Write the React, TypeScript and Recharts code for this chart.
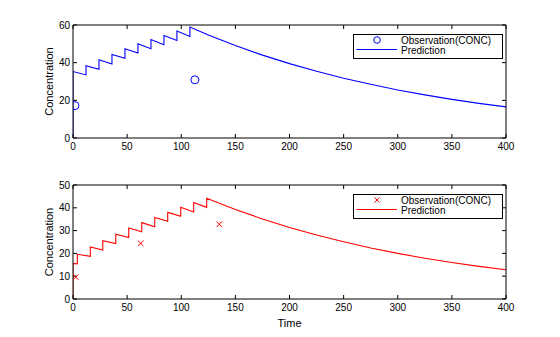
import { ComposedChart, Line, Scatter, XAxis, YAxis } from 'recharts';

const xTicks = [0, 50, 100, 150, 200, 250, 300, 350, 400];

// top panel
const topPredTime = [0, 0, 12, 12, 24, 24, 36, 36, 48, 48, 60, 60, 72, 72, 84, 84, 96, 96, 108, 108,
  125, 150, 175, 200, 225, 250, 275, 300, 325, 350, 375, 400];
const topPredConc = [0, 35.3, 33.5, 38.4, 36.5, 41.6, 39.3, 44.4, 42.3, 47.4, 45.1, 50.0, 47.4, 52.3, 49.5, 54.4, 51.8, 56.8, 53.9, 58.9,
  54.7, 49.1, 44.0, 39.5, 35.4, 31.7, 28.5, 25.5, 22.9, 20.5, 18.4, 16.5];
const topObsTime = [1.8, 112.6];
const topObsConc = [17.2, 30.9];
const topYTicks = [0, 20, 40, 60];

// bottom panel
const botPredTime = [0, 0, 4, 4, 16, 16, 27.5, 27.5, 39.5, 39.5, 51.5, 51.5, 63.5, 63.5, 75.5, 75.5, 87.5, 87.5, 99.5, 99.5, 111.5, 111.5, 123.5, 123.5,
  150, 175, 200, 225, 250, 275, 300, 325, 350, 375, 400];
const botPredConc = [0, 15.6, 15.4, 19.6, 18.7, 22.8, 21.5, 25.6, 24.3, 28.4, 27.0, 31.1, 29.5, 33.5, 31.7, 35.8, 34.1, 38.0, 36.3, 40.2, 38.2, 42.3, 40.2, 44.2,
  39.3, 35.1, 31.4, 28.1, 25.1, 22.4, 20.0, 17.9, 16.0, 14.3, 12.8];
const botObsTime = [2.5, 62.6, 135.2];
const botObsConc = [9.6, 24.4, 32.8];
const botYTicks = [0, 10, 20, 30, 40, 50];

const legendLabels = ['Observation(CONC)', 'Prediction'];

const FONT = '"Liberation Sans", Arial, sans-serif';
const tickStyle = { fontSize: 10, fontFamily: FONT, fill: '#000' };
const axisLineStyle = { stroke: '#000', strokeWidth: 1 };
const noLabel = () => <g />;

const toRows = (t: number[], c: number[]) => t.map((v, i) => ({ t: v, c: c[i] }));

const Circle = (props: any) => (
  <circle cx={props.cx} cy={props.cy} r={4} fill="none" stroke="#0000ff" strokeWidth={1} />
);

const Cross = (props: any) => {
  const { cx, cy } = props;
  const s = 2.8;
  return (
    <path d={`M${cx - s},${cy - s}L${cx + s},${cy + s}M${cx - s},${cy + s}L${cx + s},${cy - s}`} stroke="#ff0000" strokeWidth={1} fill="none" />
  );
};

type PanelProps = {
  pred: { t: number; c: number }[];
  obs: { t: number; c: number }[];
  yTicks: number[];
  color: string;
  marker: 'circle' | 'cross';
  height: number;
  plotHeight: number;
  xAxisHeight: number;
  showTime: boolean;
};

const Panel = ({ pred, obs, yTicks, color, marker, height, plotHeight, xAxisHeight, showTime }: PanelProps) => {
  const yDomain = [yTicks[0], yTicks[yTicks.length - 1]];
  return (
    <ComposedChart
      width={560}
      height={height}
      margin={{ top: 24, right: 53, left: 25, bottom: height - 25 - plotHeight - xAxisHeight }}
    >
      <XAxis
        xAxisId="b"
        dataKey="t"
        type="number"
        domain={[0, 400]}
        ticks={xTicks}
        interval={0}
        allowDataOverflow
        height={xAxisHeight}
        tickSize={-4}
        tickMargin={9}
        tick={tickStyle}
        axisLine={axisLineStyle}
        tickLine={axisLineStyle}
        label={showTime ? { value: 'Time', position: 'insideBottom', offset: 10, style: { fontSize: 11, fontFamily: FONT, fill: '#000' } } : undefined}
      />
      <XAxis
        xAxisId="t"
        orientation="top"
        dataKey="t"
        type="number"
        domain={[0, 400]}
        ticks={xTicks}
        interval={0}
        allowDataOverflow
        height={1}
        tickSize={-4}
        tick={noLabel}
        axisLine={axisLineStyle}
        tickLine={axisLineStyle}
      />
      <YAxis
        yAxisId="l"
        type="number"
        domain={yDomain}
        ticks={yTicks}
        interval={0}
        allowDataOverflow
        width={48}
        tickSize={-4}
        tickMargin={7}
        tick={tickStyle}
        axisLine={axisLineStyle}
        tickLine={axisLineStyle}
        label={{ value: 'Concentration', angle: -90, position: 'center', style: { fontSize: 11, fontFamily: FONT, fill: '#000', textAnchor: 'middle' } }}
      />
      <YAxis
        yAxisId="r"
        orientation="right"
        type="number"
        domain={yDomain}
        ticks={yTicks}
        interval={0}
        allowDataOverflow
        width={1}
        tickSize={-4}
        tick={noLabel}
        axisLine={axisLineStyle}
        tickLine={axisLineStyle}
      />
      <Line
        xAxisId="b"
        yAxisId="l"
        data={pred}
        dataKey="c"
        type="linear"
        stroke={color}
        strokeWidth={1.1}
        dot={false}
        activeDot={false}
        isAnimationActive={false}
      />
      <Scatter
        xAxisId="b"
        yAxisId="l"
        data={obs}
        dataKey="c"
        shape={marker === 'circle' ? Circle : Cross}
        isAnimationActive={false}
      />
    </ComposedChart>
  );
};

const LegendBox = ({ top, color, marker }: { top: number; color: string; marker: 'circle' | 'cross' }) => (
  <svg width={150} height={25} style={{ position: 'absolute', left: 352.5, top, overflow: 'visible' }}>
    <rect x={0.5} y={0.5} width={149} height={24} fill="#fff" stroke="#000" strokeWidth={1} />
    {marker === 'circle' ? (
      <circle cx={24} cy={6} r={3.3} fill="none" stroke={color} strokeWidth={1} />
    ) : (
      <path d="M21.5,3.5L26.5,8.5M21.5,8.5L26.5,3.5" stroke={color} strokeWidth={1} fill="none" />
    )}
    <line x1={3.5} x2={44} y1={15.5} y2={15.5} stroke={color} strokeWidth={1} />
    <text x={48} y={9.5} fontSize={10} fontFamily={FONT} fill="#000">{legendLabels[0]}</text>
    <text x={48} y={19.5} fontSize={10} fontFamily={FONT} fill="#000">{legendLabels[1]}</text>
  </svg>
);

export default function App() {
  return (
    <div style={{ position: 'absolute', left: 0, top: 0, width: 560, height: 337, background: '#fff' }}>
      <div style={{ position: 'absolute', left: 0, top: 0 }}>
        <Panel
          pred={toRows(topPredTime, topPredConc)}
          obs={toRows(topObsTime, topObsConc)}
          yTicks={topYTicks}
          color="#0000ff"
          marker="circle"
          height={160}
          plotHeight={113}
          xAxisHeight={20}
          showTime={false}
        />
      </div>
      <div style={{ position: 'absolute', left: 0, top: 160 }}>
        <Panel
          pred={toRows(botPredTime, botPredConc)}
          obs={toRows(botObsTime, botObsConc)}
          yTicks={botYTicks}
          color="#ff0000"
          marker="cross"
          height={177}
          plotHeight={114}
          xAxisHeight={38}
          showTime
        />
      </div>
      <LegendBox top={33.5} color="#0000ff" marker="circle" />
      <LegendBox top={193.5} color="#ff0000" marker="cross" />
    </div>
  );
}
